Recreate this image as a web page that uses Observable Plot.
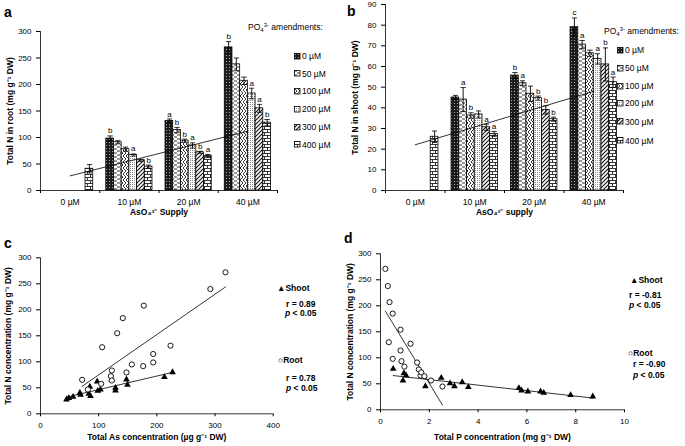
<!DOCTYPE html>
<html><head><meta charset="utf-8">
<script src="https://cdn.jsdelivr.net/npm/d3@7"></script>
<script src="https://cdn.jsdelivr.net/npm/@observablehq/plot@0.6"></script>
<style>
body{margin:0;background:#fff;font-family:"Liberation Sans",Arial,sans-serif;color:#000;}
#fig{position:relative;width:685px;height:446px;overflow:hidden;background:#fff;}
.panel{position:absolute;}
.t{position:absolute;white-space:nowrap;line-height:10px;font-size:8.5px;}
.b{font-weight:bold;}
.sm{font-size:6px;line-height:0;position:relative;}
.letter{position:absolute;font-weight:bold;font-size:14px;line-height:14px;}
</style></head><body>
<svg width="0" height="0" style="position:absolute">
<defs>
<pattern id="pat0" width="3" height="3" patternUnits="userSpaceOnUse"><rect width="3" height="3" fill="#1c1c1c"/><rect x="1" y="1" width="1" height="1" fill="#aaa"/></pattern>
<pattern id="pat1" width="6" height="4" patternUnits="userSpaceOnUse"><rect width="6" height="4" fill="#fff"/><path d="M0,1H3M3,3H6" stroke="#333" stroke-width="1"/></pattern>
<pattern id="pat2" width="6" height="6" patternUnits="userSpaceOnUse"><rect width="6" height="6" fill="#fff"/><path d="M0,0L3,3L0,6M3,0L6,3L3,6" fill="none" stroke="#222" stroke-width="0.9"/></pattern>
<pattern id="pat3" width="2" height="2" patternUnits="userSpaceOnUse"><rect width="2" height="2" fill="#fff"/><rect width="1" height="1" fill="#8a8a8a"/></pattern>
<pattern id="pat4" width="4" height="4" patternUnits="userSpaceOnUse"><rect width="4" height="4" fill="#fff"/><path d="M-1,1L1,-1M0,4L4,0M3,5L5,3" stroke="#111" stroke-width="1.1"/></pattern>
<pattern id="pat5" width="6" height="6" patternUnits="userSpaceOnUse"><rect width="6" height="6" fill="#fff"/><path d="M0,0.5H6M0,3.5H6M0.5,0.5V3.5M3.5,3.5V6.5" fill="none" stroke="#222" stroke-width="0.9"/></pattern>
</defs></svg>
<div id="fig"></div>
<script>
// ---------- data ----------
const supply = ["0 µM", "10 µM", "20 µM", "40 µM"];
const amendments = ["0 µM", "50 µM", "100 µM", "200 µM", "300 µM", "400 µM"];

// Panel a: total N in root (mg g-1 DW), bars in amendment order
const rootN_0 = [null, null, null, null, null, 41];
const rootErr_0 = [null, null, null, null, null, 8];
const rootSig_0 = ["", "", "", "", "", ""];
const rootN_10 = [98, 91, 78, 67, 57, 45];
const rootErr_10 = [5, 3, 4, 2, 2, 3];
const rootSig_10 = ["b", "", "", "a", "", "b"];
const rootN_20 = [131, 114, 94, 85, 72, 65];
const rootErr_20 = [4, 5, 3, 5, 2, 3];
const rootSig_20 = ["a", "b", "b", "a", "b", "a"];
const rootN_40 = [270, 238, 207, 183, 155, 128];
const rootErr_40 = [11, 12, 7, 10, 7.5, 6];
const rootSig_40 = ["b", "", "", "a", "a", "b"];

// Panel b: total N in shoot (mg g-1 DW)
const shootN_0 = [null, null, null, null, null, 26];
const shootErr_0 = [null, null, null, null, null, 2.8];
const shootSig_0 = ["", "", "", "", "", ""];
const shootN_10 = [45, 44, 36.3, 36.8, 30.6, 27.4];
const shootErr_10 = [1, 5.8, 1.3, 1.7, 1.5, 1.2];
const shootSig_10 = ["", "a", "b", "", "a", "a"];
const shootN_20 = [55.6, 51.9, 46.8, 44.7, 39, 34.5];
const shootErr_20 = [1.5, 1.2, 3.7, 1, 2, 1];
const shootSig_20 = ["b", "a", "", "b", "b", "b"];
const shootN_40 = [79, 70.6, 66.4, 63.7, 61, 52.4];
const shootErr_40 = [4.5, 2, 1.5, 2.5, 8, 2.5];
const shootSig_40 = ["c", "a", "", "a", "b", "a"];

// Panel c: total N vs total As
const asRoot = [71.6, 106, 131.8, 141.5, 177.6, 292, 318, 223.5, 193.7, 193.7, 176.5, 157, 147.8, 122.6, 121, 122.6, 104.3, 81.4];
const nRootC = [65.4, 128, 155, 184, 208, 240, 272, 131, 115, 98.7, 91.7, 94.9, 79.5, 83.3, 72.4, 64.1, 57.7, 46.8];
const asShoot = [227, 213, 97.4, 122.6, 147.8, 149.5, 128.9, 128.9, 103, 98.5, 68.8, 67.6, 83, 86, 84.8, 56, 48.7, 44.7];
const nShootC = [80, 70.5, 62, 66, 66, 55.8, 50, 44.9, 46.8, 44, 36.5, 40.4, 38.5, 34, 52, 32.7, 30.1, 27.6];

// Panel d: total N vs total P
const pRoot = [0.2, 0.3, 0.37, 0.5, 0.34, 0.5, 0.82, 0.82, 0.86, 0.98, 1.23, 1.5, 1.57, 1.64, 1.67, 1.8, 2.07, 2.54];
const nRootD = [271, 238, 207, 185, 130, 98, 154, 114, 93.5, 83, 127, 91, 77.5, 66, 72, 64.6, 56.3, 44.8];
const pShoot = [0.52, 0.92, 0.96, 1.05, 1.84, 2.49, 2.85, 3.03, 3.35, 3.6, 5.67, 5.78, 6.04, 6.56, 6.69, 7.79, 8.7];
const nShootD = [78.8, 56, 70.4, 66, 45.4, 61.5, 51, 45.4, 53, 43.5, 41.7, 37.2, 35.3, 35.3, 32.7, 28.2, 25.6];

// ---------- helpers ----------
const FONT = "'Liberation Sans', Arial, sans-serif";
const fig = document.getElementById("fig");
function place(node, left, top) {
  const w = document.createElement("div");
  w.className = "panel";
  w.style.left = left + "px"; w.style.top = top + "px";
  w.appendChild(node); fig.appendChild(w);
}
function txt(html, left, cy, cls = "") {
  const d = document.createElement("div");
  d.className = "t " + cls;
  d.style.left = left + "px"; d.style.top = (cy - 5) + "px";
  d.innerHTML = html; fig.appendChild(d);
}
function letter(s, left, cy) {
  const d = document.createElement("div");
  d.className = "letter"; d.style.left = left + "px"; d.style.top = (cy - 7) + "px";
  d.textContent = s; fig.appendChild(d);
}
function swatchRow(i, left, cy) {
  const d = document.createElement("div");
  d.className = "t"; d.style.left = left + "px"; d.style.top = (cy - 5) + "px";
  d.innerHTML = `<svg width="7" height="7" style="vertical-align:-0.5px;margin-right:1px"><rect x="0.5" y="0.5" width="5.5" height="5.5" fill="url(#pat${i})" stroke="#000" stroke-width="0.8"/></svg>${amendments[i]}`;
  fig.appendChild(d);
}
function barRows(values, errs, sigs) {
  const rows = [];
  values.forEach((vals, gi) => vals.forEach((v, ai) => {
    if (v == null) return;
    rows.push({gi, ai, amend: amendments[ai], value: v, err: errs[gi][ai], sig: sigs[gi][ai]});
  }));
  return rows;
}
const BAR = 0.13; // bar width as a fraction of a supply group
const bx1 = d => d.gi + (d.ai - 3) * BAR;
const bx2 = d => d.gi + (d.ai - 2) * BAR;
const bxm = d => d.gi + (d.ai - 2.5) * BAR;

function barPanel({rows, yMax, yStep, yTitle, xTitle, width, height, marginTop, marginBottom, marginLeft, marginRight}) {
  const trend = rows.filter(d => d.ai === amendments.length - 1);
  return Plot.plot({
    width, height, marginTop, marginBottom, marginLeft, marginRight,
    style: {background: "transparent", fontFamily: FONT, fontSize: "8px", overflow: "visible"},
    x: {domain: [-0.5, supply.length - 0.5]},
    y: {domain: [0, yMax]},
    color: {type: "identity"},
    marks: [
      Plot.rect(rows, {x1: bx1, x2: bx2, y1: 0, y2: "value", fill: d => `url(#pat${d.ai})`, stroke: "black", strokeWidth: 0.8}),
      Plot.link(rows, {x1: bxm, x2: bxm, y1: d => d.value - d.err, y2: d => d.value + d.err, stroke: "black", strokeWidth: 0.9, markerStart: "tick", markerEnd: "tick"}),
      Plot.text(rows.filter(d => d.sig), {x: bxm, y: d => d.value + d.err, text: "sig", dy: -5, fontSize: 8}),
      Plot.linearRegressionY(trend, {x: "gi", y: "value", ci: 0, stroke: "black", strokeWidth: 0.8}),
      Plot.ruleY([0], {stroke: "black", strokeWidth: 0.8}),
      Plot.ruleX([-0.5], {stroke: "black", strokeWidth: 0.8}),
      Plot.axisY({ticks: d3.range(0, yMax + 1, yStep), tickSize: 4, fontSize: 8, label: null}),
      Plot.axisX({ticks: d3.range(supply.length), tickFormat: i => supply[i], tickSize: 0, tickPadding: 8, fontSize: 8.5, label: null}),
      Plot.axisX({ticks: d3.range(-0.5, supply.length, 1), tickFormat: () => "", tickSize: 3, label: null}),
      Plot.text([yTitle], {text: d => d, frameAnchor: "left", textAnchor: "middle", lineAnchor: "middle", rotate: -90, dx: -30, fontWeight: "bold", fontSize: 8.5}),
      Plot.text([xTitle], {text: d => d, frameAnchor: "bottom", textAnchor: "middle", lineAnchor: "middle", dy: 22, fontWeight: "bold", fontSize: 8.5})
    ]
  });
}

function scatterPanel({root, shoot, xMax, xStep, yTitle, xTitle, titleDx, titleDy, width, height, marginTop, marginBottom, marginLeft, marginRight}) {
  return Plot.plot({
    width, height, marginTop, marginBottom, marginLeft, marginRight,
    style: {background: "transparent", fontFamily: FONT, fontSize: "8px", overflow: "visible"},
    x: {domain: [0, xMax]},
    y: {domain: [0, 300]},
    marks: [
      Plot.ruleY([0], {stroke: "black", strokeWidth: 0.8}),
      Plot.ruleX([0], {stroke: "black", strokeWidth: 0.8}),
      Plot.axisY({ticks: d3.range(0, 301, 50), tickSize: 4, fontSize: 8, label: null}),
      Plot.axisX({ticks: d3.range(0, xMax + xStep / 2, xStep), tickSize: 3, fontSize: 8, label: null}),
      Plot.linearRegressionY(root, {x: "x", y: "y", ci: 0, stroke: "black", strokeWidth: 0.8}),
      Plot.linearRegressionY(shoot, {x: "x", y: "y", ci: 0, stroke: "black", strokeWidth: 0.8}),
      Plot.dot(shoot, {x: "x", y: "y", symbol: "triangle", r: 2.5, fill: "black", stroke: "none"}),
      Plot.dot(root, {x: "x", y: "y", r: 2.6, fill: "white", stroke: "black", strokeWidth: 0.9}),
      Plot.text([yTitle], {text: d => d, frameAnchor: "left", textAnchor: "middle", lineAnchor: "middle", rotate: -90, dx: titleDx, fontWeight: "bold", fontSize: 8.5}),
      Plot.text([xTitle], {text: d => d, frameAnchor: "bottom", textAnchor: "middle", lineAnchor: "middle", dy: titleDy, fontWeight: "bold", fontSize: 8.5})
    ]
  });
}

// ---------- panel a ----------
place(barPanel({
  rows: barRows([rootN_0, rootN_10, rootN_20, rootN_40], [rootErr_0, rootErr_10, rootErr_20, rootErr_40], [rootSig_0, rootSig_10, rootSig_20, rootSig_40]),
  yMax: 300, yStep: 50, yTitle: "Total N in root (mg g⁻¹ DW)", xTitle: "AsO₄³⁻ Supply",
  width: 300, height: 220, marginTop: 31, marginBottom: 30, marginLeft: 40, marginRight: 23
}), 0, 0);

// ---------- panel b ----------
place(barPanel({
  rows: barRows([shootN_0, shootN_10, shootN_20, shootN_40], [shootErr_0, shootErr_10, shootErr_20, shootErr_40], [shootSig_0, shootSig_10, shootSig_20, shootSig_40]),
  yMax: 90, yStep: 10, yTitle: "Total N in shoot (mg g⁻¹ DW)", xTitle: "AsO₄³⁻ supply",
  width: 300, height: 220, marginTop: 4, marginBottom: 30, marginLeft: 40, marginRight: 22
}), 345, 0);

// ---------- panel c ----------
place(scatterPanel({
  root: asRoot.map((x, i) => ({x, y: nRootC[i]})),
  shoot: asShoot.map((x, i) => ({x, y: nShootC[i]})),
  xMax: 400, xStep: 100, yTitle: "Total N concentration (mg g⁻¹ DW)", xTitle: "Total As concentration (µg g⁻¹ DW)",
  titleDx: -32, titleDy: 23.7,
  width: 300, height: 221, marginTop: 32.3, marginBottom: 32.7, marginLeft: 40, marginRight: 27.3
}), 0, 225);

// ---------- panel d ----------
place(scatterPanel({
  root: pRoot.map((x, i) => ({x, y: nRootD[i]})),
  shoot: pShoot.map((x, i) => ({x, y: nShootD[i]})),
  xMax: 10, xStep: 2, yTitle: "Total N concentration (mg g⁻¹ DW)", xTitle: "Total P concentration (mg g⁻¹ DW)",
  titleDx: -30, titleDy: 27.7,
  width: 300, height: 221, marginTop: 28.3, marginBottom: 36.7, marginLeft: 40, marginRight: 16
}), 340, 225);

// ---------- legends and annotations ----------
letter("a", 4, 12); letter("b", 347, 11); letter("c", 4, 243); letter("d", 344, 238);

const po4 = "PO<span class='sm' style='top:2px'>4</span><span class='sm' style='top:-3px'>3-</span> amendments:";
txt(po4, 248, 27);
[56, 73.7, 91.3, 109, 127, 144.7].forEach((cy, i) => swatchRow(i, 294, cy));
txt(po4, 604, 31);
[50, 68.3, 86, 103.3, 121.7, 140.7].forEach((cy, i) => swatchRow(i, 617, cy));

txt("▲Shoot", 277, 288, "b"); txt("r = 0.89", 286, 304, "b"); txt("<i>p</i> &lt; 0.05", 285, 313, "b");
txt("○Root", 278, 360, "b"); txt("r = 0.78", 286, 378, "b"); txt("<i>p</i> &lt; 0.05", 286, 388, "b");
txt("▲Shoot", 630, 280, "b"); txt("r = -0.81", 629, 295, "b"); txt("<i>p</i> &lt; 0.05", 629, 305, "b");
txt("○Root", 628, 353, "b"); txt("r = -0.90", 633, 364, "b"); txt("<i>p</i> &lt; 0.05", 633, 375, "b");
</script>
</body></html>
